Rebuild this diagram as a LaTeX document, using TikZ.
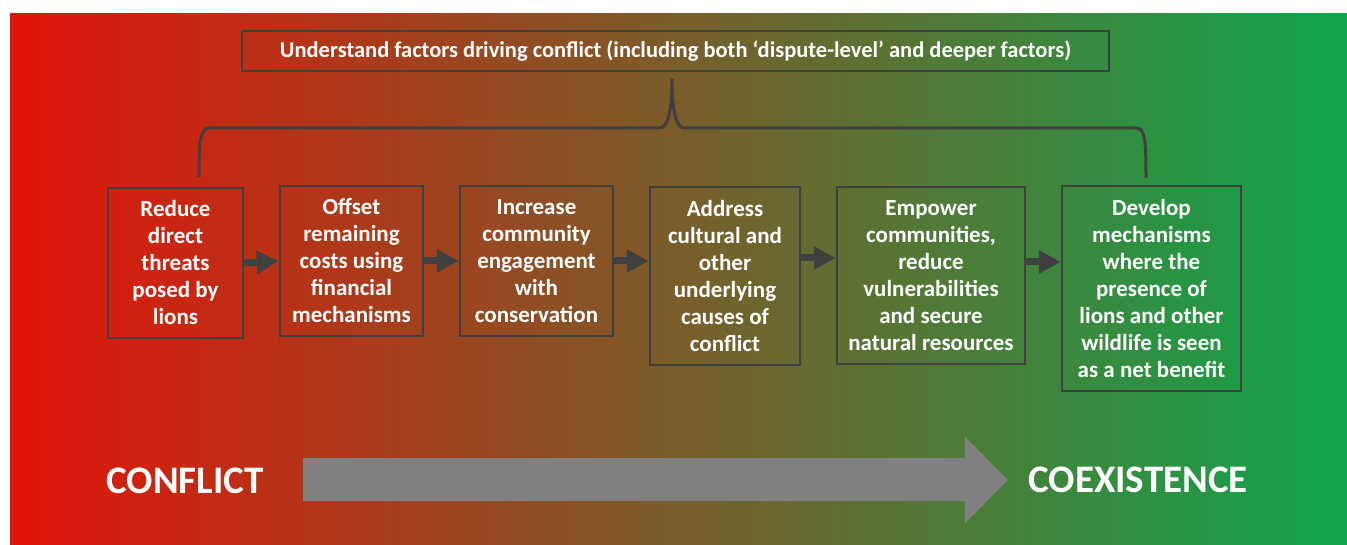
\documentclass[tikz,border=0pt]{standalone}
\usepackage{fontspec}
\setmainfont{Carlito}
\usetikzlibrary{arrows.meta}
\definecolor{conflictred}{RGB}{227,20,10}
\definecolor{coexgreen}{RGB}{15,166,75}
\definecolor{edgegray}{RGB}{64,64,64}
\definecolor{bandgray}{RGB}{128,128,128}

\begin{document}
\begin{tikzpicture}[x=1pt,y=-1pt,
   stage/.style={draw=edgegray,line width=2.5pt,align=center,text=white,
      inner sep=0pt,font=\fontsize{23}{27}\selectfont\bfseries},
   pole/.style={text=white,inner sep=0pt,font=\fontsize{39}{44}\selectfont\bfseries},
   link/.style={draw=edgegray,line width=7pt,-{Triangle[length=22pt,width=22pt]}},
   brace/.style={draw=edgegray,line width=3pt}]
\useasboundingbox (0,0) rectangle (1347,545);
\shade[left color=conflictred,right color=coexgreen] (10,14) rectangle (1347,545);

% the six steps
\node[stage,minimum width=135,minimum height=150] (reduce) at (175.5,263)
   {Reduce\\direct\\threats\\posed by\\lions};
\node[stage,minimum width=143,minimum height=150] (offset) at (351.5,261)
   {Offset\\remaining\\costs using\\financial\\mechanisms};
\node[stage,minimum width=153,minimum height=150] (engage) at (536.5,261)
   {Increase\\community\\engagement\\with\\conservation};
\node[stage,minimum width=150,minimum height=178] (address) at (725,276)
   {Address\\cultural and\\other\\underlying\\causes of\\conflict};
\node[stage,minimum width=188,minimum height=177] (empower) at (931,275.5)
   {Empower\\communities,\\reduce\\vulnerabilities\\and secure\\natural resources};
\node[stage,minimum width=179,minimum height=205] (develop) at (1151.5,288.5)
   {Develop\\mechanisms\\where the\\presence of\\lions and other\\wildlife is seen\\as a net benefit};

\draw[link] (reduce.east) -- (offset.west);
\draw[link] (offset.east) -- (engage.west);
\draw[link] (engage.east) -- (engage.east -| address.west);
\draw[link] ([yshift=18pt]address.east) -- ([yshift=18pt]address.east -| empower.west);
\draw[link] ([yshift=13.5pt]empower.east) -- ([yshift=13.5pt]empower.east -| develop.west);

% understanding box and brace
\node[stage,minimum width=867,minimum height=40,
   font=\fontsize{22.5}{26}\selectfont\bfseries] (factors) at (675.5,51)
   {Understand factors driving conflict (including both `dispute-level' and deeper factors)};
\coordinate (brace left) at (199,177);
\coordinate (brace tip) at (672,79);
\coordinate (brace right) at (1146,178);
\draw[brace] (brace left) .. controls (199,140) and (200,128) .. (210,128)
   -- (660,128) .. controls (668,128) and (672,110) .. (brace tip)
   .. controls (672,110) and (676,128) .. (684,128)
   -- (1136,128) .. controls (1145,128) and (1146,140) .. (brace right);

% conflict to coexistence
\node[pole] (conflict) at (185,481) {CONFLICT};
\node[pole] (coexist) at (1138,480) {COEXISTENCE};
\fill[bandgray] (303,458) -- (965,458) -- (965,437) -- (1008,480)
   -- (965,523) -- (965,501) -- (303,501) -- cycle;
\end{tikzpicture}
\end{document}
